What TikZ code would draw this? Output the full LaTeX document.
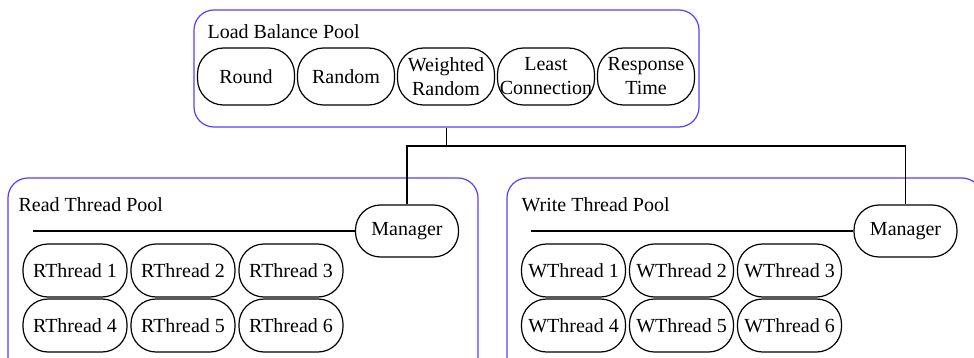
\documentclass[tikz,border=0pt]{standalone}
\usepackage{fontspec}
\setmainfont{Liberation Serif}
\usetikzlibrary{positioning}
\definecolor{poolblue}{RGB}{90,60,255}

\begin{document}
\begin{tikzpicture}[x=0.5pt,y=-0.5pt,on grid,line width=0.6pt,
    pool/.style={draw=poolblue,rounded corners=10pt,inner sep=0pt},
    algo/.style={draw,rounded corners=13pt,minimum width=48.5pt,minimum height=28.5pt,inner sep=0.5pt,align=center},
    worker/.style={draw,rounded corners=12.5pt,minimum width=52pt,minimum height=26.5pt,inner sep=0.5pt},
    mgr/.style={worker,minimum width=51.5pt,minimum height=26pt},
    title/.style={anchor=west,inner sep=0pt}]
    \useasboundingbox (0,0) rectangle (974,358);
    \clip (0,0) rectangle (974,358);

    % load balance pool
    \node[pool,minimum width=252.5pt,minimum height=58.5pt] (lbpool) at (446.5,68.5) {};
    \node[title] (lbtitle) at (207,32) {Load Balance Pool};
    \node[algo] (round) at (246,76.5) {Round};
    \node[algo] (random) [right=50pt of round] {Random};
    \node[algo] (wrandom) [right=50pt of random] {Weighted\\Random};
    \node[algo] (least) [right=50pt of wrandom] {Least\\Connection};
    \node[algo] (resp) [right=50pt of least] {Response\\Time};

    % read thread pool
    \node[pool,minimum width=235pt,minimum height=101pt] (rpool) at (243,279) {};
    \node[title] (rtitle) at (18,205) {Read Thread Pool};
    \node[mgr] (rmgr) at (407,231) {Manager};
    \coordinate (rend) at (33,231);
    \node[worker] (rt1) at (75,270.5) {RThread 1};
    \node[worker] (rt2) [right=54pt of rt1] {RThread 2};
    \node[worker] (rt3) [right=54pt of rt2] {RThread 3};
    \node[worker] (rt4) [below=27.5pt of rt1] {RThread 4};
    \node[worker] (rt5) [right=54pt of rt4] {RThread 5};
    \node[worker] (rt6) [right=54pt of rt5] {RThread 6};

    % write thread pool
    \node[pool,minimum width=237.5pt,minimum height=101pt] (wpool) at (744.5,279) {};
    \node[title] (wtitle) at (521,205) {Write Thread Pool};
    \node[mgr] (wmgr) at (905.5,231) {Manager};
    \coordinate (wend) at (531,231);
    \node[worker] (wt1) at (573.5,270.5) {WThread 1};
    \node[worker] (wt2) [right=54pt of wt1] {WThread 2};
    \node[worker] (wt3) [right=54pt of wt2] {WThread 3};
    \node[worker] (wt4) [below=27.5pt of wt1] {WThread 4};
    \node[worker] (wt5) [right=54pt of wt4] {WThread 5};
    \node[worker] (wt6) [right=54pt of wt5] {WThread 6};

    % links
    \coordinate (split) at (446.5,146);
    \draw (lbpool.south) -- (split);
    \draw (rmgr.north) |- (split) -| (wmgr.north);
    \draw (rmgr.west) -- (rend);
    \draw (wmgr.west) -- (wend);
\end{tikzpicture}
\end{document}
